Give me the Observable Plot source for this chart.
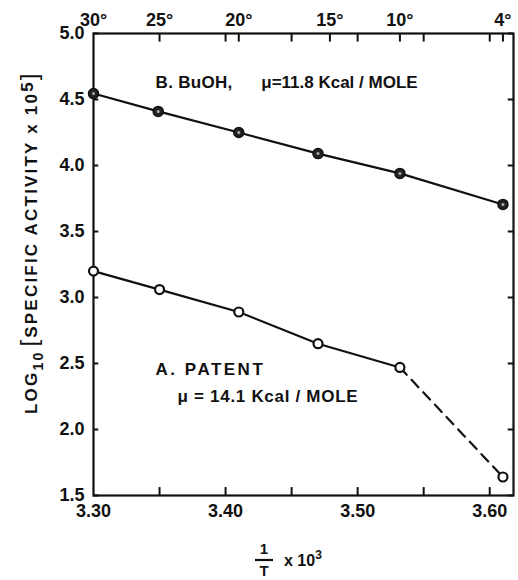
<!DOCTYPE html>
<html><head><meta charset="utf-8">
<script src="https://cdn.jsdelivr.net/npm/d3@7"></script>
<script src="https://cdn.jsdelivr.net/npm/@observablehq/plot@0.6"></script>
<style>
body{margin:0;background:#fff;}
#chart svg{font-family:"Liberation Sans",Arial,sans-serif;}
</style></head><body><div id="chart"></div>
<script>
// Curve A: patent (open circles)
const xA = [3.30, 3.35, 3.41, 3.47, 3.532, 3.61];
const yA = [3.20, 3.06, 2.89, 2.65, 2.47, 1.64];
// Curve B: BuOH (filled circles)
const xB = [3.30, 3.349, 3.41, 3.47, 3.532, 3.61];
const yB = [4.545, 4.41, 4.25, 4.09, 3.94, 3.705];
// axes
const xTicks = [3.30, 3.40, 3.50, 3.60];
const xMinor = [3.35, 3.45, 3.55];
const yTicks = [1.5, 2.0, 2.5, 3.0, 3.5, 4.0, 4.5, 5.0];
const tempLabels = ["30°", "25°", "20°", "15°", "10°", "4°"];
const tempPos = [3.30, 3.35, 3.41, 3.479, 3.532, 3.61];
const labelB1 = "B. BuOH,";
const labelB2 = "μ=11.8 Kcal / MOLE";
const labelA1 = "A. PATENT";
const labelA2 = "μ = 14.1 Kcal / MOLE";

const A = xA.map((x, i) => ({x, y: yA[i]}));
const B = xB.map((x, i) => ({x, y: yB[i]}));
const tempMap = new Map(tempPos.map((p, i) => [p, tempLabels[i]]));
const topTicks = [...new Set([...xTicks.slice(1), ...xMinor, ...tempPos.slice(1)])];
const txt = {fontSize: 17, fontWeight: "bold", textAnchor: "start", lineAnchor: "bottom", fill: "#111"};
const tick = {tickSize: 0, fontSize: 18, fontWeight: "bold", label: null, fill: "#111"};

const chart = Plot.plot({
  width: 518, height: 580,
  marginLeft: 93, marginRight: 5, marginTop: 33, marginBottom: 85,
  x: {domain: [3.30, 3.618]},
  y: {domain: [1.5, 5.0]},
  style: {fontFamily: "Liberation Sans, Arial, sans-serif", color: "#111"},
  marks: [
    Plot.axisY(yTicks, {...tick, tickPadding: 9, tickFormat: d3.format(".1f")}),
    Plot.axisX(xTicks, {...tick, tickPadding: 9, tickFormat: d3.format(".2f")}),
    Plot.axisX(tempPos, {...tick, anchor: "top", tickPadding: 8, tickFormat: d => tempMap.get(d)}),
    Plot.ruleX([...xTicks.slice(1), ...xMinor], {y1: 1.5, y2: 1.56, strokeWidth: 2}),
    Plot.ruleX(topTicks, {y1: 5.0, y2: 4.935, strokeWidth: 2}),
    Plot.ruleY(yTicks, {x1: 3.30, x2: 3.304, strokeWidth: 2}),
    Plot.ruleY(yTicks, {x1: 3.618, x2: 3.614, strokeWidth: 2}),
    Plot.frame({strokeWidth: 2.2}),
    Plot.line(B, {x: "x", y: "y", strokeWidth: 2.2, stroke: "#111"}),
    Plot.line(A.slice(0, 5), {x: "x", y: "y", strokeWidth: 2.2, stroke: "#111"}),
    Plot.line(A.slice(4), {x: "x", y: "y", strokeWidth: 2.2, stroke: "#111", strokeDasharray: "10,7"}),
    Plot.dot(B, {x: "x", y: "y", r: 5, fill: "#222", stroke: "#111", strokeWidth: 1.5}),
    Plot.dot(B, {x: "x", y: "y", r: 1.5, fill: "#aaa"}),
    Plot.dot(A, {x: "x", y: "y", r: 4.5, fill: "#fff", stroke: "#111", strokeWidth: 2.2}),
    Plot.text([labelB1], {x: 3.347, y: 4.59, text: d => d, ...txt}),
    Plot.text([labelB2], {x: 3.427, y: 4.59, text: d => d, ...txt}),
    Plot.text([labelA1], {x: 3.347, y: 2.41, text: d => d, ...txt}),
    Plot.text([labelA2], {x: 3.3636, y: 2.205, text: d => d, ...txt})
  ]
});
document.getElementById("chart").append(chart);

const svg = d3.select(chart);
// widen letter spacing of the annotations as in the reference
const spacing = new Map([[labelA1, 2.5], [labelA2, 0.7], [labelB1, 0.3]]);
svg.selectAll("text").filter(function() { return spacing.has(this.textContent); })
  .attr("letter-spacing", function() { return spacing.get(this.textContent); });

// axis titles
const yl = svg.append("text")
  .attr("transform", "translate(37,414) rotate(-90)")
  .attr("font-size", 17).attr("font-weight", "bold").attr("fill", "#111")
  .attr("letter-spacing", 2.2).attr("text-anchor", "start");
yl.append("tspan").text("LOG");
yl.append("tspan").attr("dy", 6).attr("font-size", 14).text("10");
yl.append("tspan").attr("dy", -6).attr("dx", 4).attr("font-size", 24).attr("font-weight", "normal").text("[");
yl.append("tspan").text("SPECIFIC ACTIVITY x 10");
yl.append("tspan").attr("dy", -4).text("5");
yl.append("tspan").attr("dy", 4).attr("font-size", 24).attr("font-weight", "normal").text("]");

// x title: fraction 1/T followed by x 10^3
const xl = svg.append("g").attr("fill", "#111").attr("font-weight", "bold");
const frac = xl.append("text").attr("text-anchor", "middle").attr("font-size", 15);
frac.append("tspan").attr("x", 264).attr("y", 554).text("1");
frac.append("tspan").attr("x", 264).attr("y", 576).text("T");
xl.append("line").attr("x1", 255).attr("x2", 273).attr("y1", 560).attr("y2", 560).attr("stroke", "#111").attr("stroke-width", 2.2);
const xt = xl.append("text").attr("x", 284).attr("y", 566).attr("font-size", 16).attr("text-anchor", "start");
xt.append("tspan").text("x 10");
xt.append("tspan").attr("dy", -7).attr("font-size", 12).text("3");
</script></body></html>
